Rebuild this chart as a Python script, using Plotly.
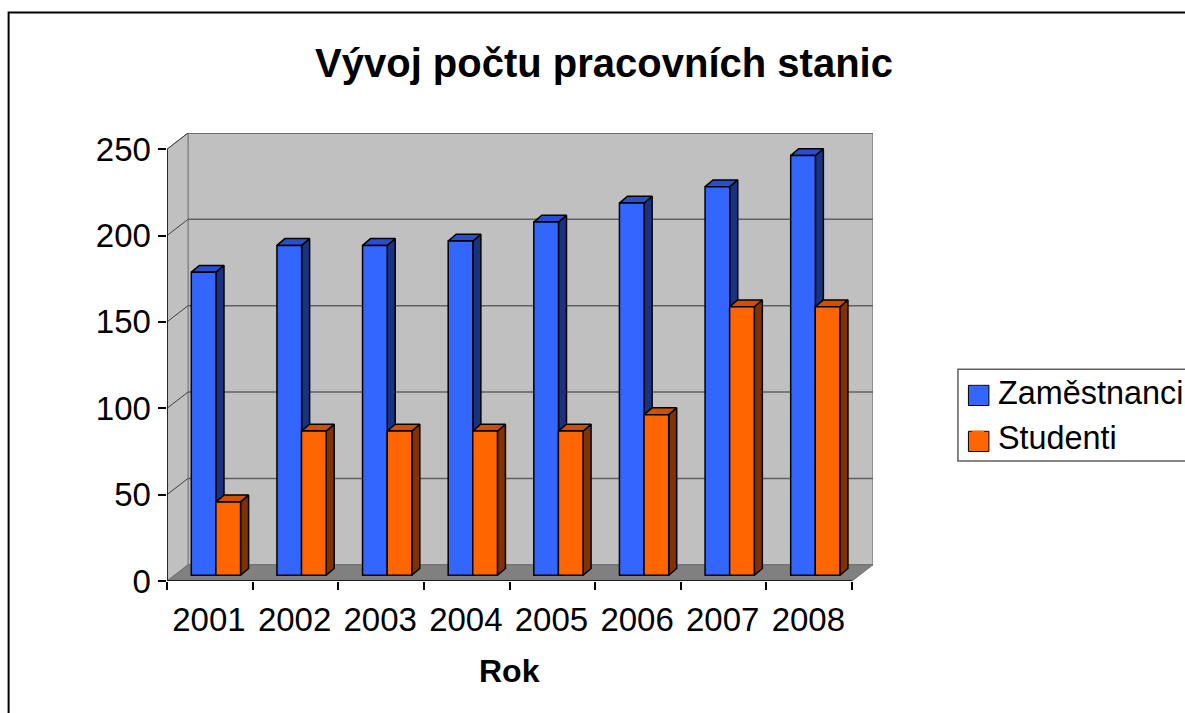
import numpy as np
import plotly.graph_objects as go

years = ["2001", "2002", "2003", "2004", "2005", "2006", "2007", "2008"]
zamestnanci = [175.5, 191, 191, 193.5, 204.5, 215.5, 225, 243]
studenti = [42.5, 83.5, 83.5, 83.5, 83.5, 93, 155.5, 155.5]
y_ticks = [0, 50, 100, 150, 200, 250]

W, H = 1185, 713
L, R_EDGE, T, B_EDGE = 166.5, 873.0, 132.7, 581.0
PX_CAT = 85.65
PX_VAL = 1.728
DEPTH_X = 21 / PX_CAT
DEPTH_Y = 16.2 / PX_VAL
BAR_W = 24.7 / PX_CAT
BAR_DX = 8 / PX_CAT
BAR_DY = 6.8 / PX_VAL
BAR_BASE = 5.7 / PX_VAL
CENTER_A, CENTER_B = 0.428, 0.715
N = len(years)
TOP = 250 + DEPTH_Y
pw, ph = R_EDGE - L, B_EDGE - T


def paper_x(px):
    return (px - L) / pw


def paper_y(py):
    return (B_EDGE - py) / ph


def faces(centers, values):
    sx, sy, tx, ty = [], [], [], []
    for c, v in zip(centers, values):
        r = c + BAR_W / 2
        l = c - BAR_W / 2
        t = BAR_BASE + v
        sx += [r, r + BAR_DX, r + BAR_DX, r, r, None]
        sy += [BAR_BASE, BAR_BASE + BAR_DY, t + BAR_DY, t, BAR_BASE, None]
        tx += [l, l + BAR_DX, r + BAR_DX, r, l, None]
        ty += [t, t + BAR_DY, t + BAR_DY, t, t, None]
    return sx, sy, tx, ty


fig = go.Figure()
series = [
    ("Zaměstnanci", zamestnanci, CENTER_A, "#3366FF", "#1A3380", "#2850CC", 0),
    ("Studenti", studenti, CENTER_B, "#FF6600", "#803300", "#CC5200", 2),
]
for name, vals, off, col, side, top, z in series:
    centers = np.arange(N) + off
    sx, sy, tx, ty = faces(centers, vals)
    for fx, fy, fc in ((sx, sy, side), (tx, ty, top)):
        fig.add_trace(go.Scatter(x=fx, y=fy, mode="lines", fill="toself", fillcolor=fc,
                                 line=dict(color="black", width=1.5), showlegend=False,
                                 hoverinfo="skip", zorder=z))
    fig.add_trace(go.Bar(x=centers, y=vals, base=BAR_BASE, width=BAR_W, name=name,
                         marker=dict(color=col, line=dict(color="black", width=1.5)),
                         showlegend=False, zorder=z + 1))
    fig.add_trace(go.Scatter(x=[None], y=[None], mode="markers", name=name,
                             marker=dict(symbol="square", size=20, color=col,
                                         line=dict(width=0))))

shapes = [
    dict(type="rect", xref="paper", yref="paper",
         x0=paper_x(8.0), x1=paper_x(1300), y0=paper_y(800), y1=paper_y(12),
         layer="below", line=dict(color="black", width=2), fillcolor="white"),
    dict(type="rect", x0=DEPTH_X, x1=N + DEPTH_X, y0=DEPTH_Y, y1=TOP, layer="below",
         fillcolor="#C0C0C0", line=dict(color="#808080", width=1.5)),
    dict(type="path", path=f"M0,0 L{DEPTH_X},{DEPTH_Y} L{DEPTH_X},{TOP} L0,250 Z", layer="below",
         fillcolor="#C0C0C0", line=dict(color="#808080", width=1)),
    dict(type="path", path=f"M0,0 L{N},0 L{N + DEPTH_X},{DEPTH_Y} L{DEPTH_X},{DEPTH_Y} Z", layer="below",
         fillcolor="#808080", line=dict(color="#707070", width=1)),
]
for v in y_ticks[1:]:
    shapes.append(dict(type="line", x0=DEPTH_X, x1=N + DEPTH_X, y0=v + DEPTH_Y, y1=v + DEPTH_Y,
                       layer="below", line=dict(color="#606060", width=1.5)))
    shapes.append(dict(type="line", x0=0, x1=DEPTH_X, y0=v, y1=v + DEPTH_Y,
                       layer="below", line=dict(color="#404040", width=1)))
shapes.append(dict(type="line", x0=0, x1=0, y0=0, y1=250, line=dict(color="black", width=1.5)))
shapes.append(dict(type="line", x0=0, x1=N, y0=0, y1=0, line=dict(color="black", width=1.5)))
# legend frame and 20 px swatches (the legend's own swatch size is capped)
shapes.append(dict(type="rect", xref="paper", yref="paper",
                   x0=paper_x(958), x1=paper_x(1300), y0=paper_y(461), y1=paper_y(369),
                   fillcolor="white", line=dict(color="#606060", width=1.5)))
for (y0, y1), col in (((385.2, 405.4), "#3366FF"), ((431.2, 451.4), "#FF6600")):
    shapes.append(dict(type="rect", xref="paper", yref="paper",
                       x0=paper_x(968.5), x1=paper_x(989), y0=paper_y(y1), y1=paper_y(y0),
                       fillcolor=col, line=dict(color="black", width=1)))

font = "Liberation Sans, Arial, sans-serif"
fig.update_layout(
    width=W, height=H, autosize=False,
    margin=dict(l=L, r=W - R_EDGE, t=T, b=H - B_EDGE, pad=0, autoexpand=False),
    paper_bgcolor="white", plot_bgcolor="rgba(0,0,0,0)",
    barmode="overlay",
    font=dict(family=font, size=33, color="black"),
    shapes=shapes,
    title=dict(text="<b>Vývoj počtu pracovních stanic</b>", font=dict(size=40, color="black"),
               x=604 / W, xref="container", xanchor="center",
               y=1 - 63 / H, yref="container", yanchor="middle"),
    legend=dict(x=paper_x(958), xanchor="left", y=paper_y(364), yanchor="top",
                bgcolor="rgba(0,0,0,0)", borderwidth=0,
                itemsizing="constant", entrywidth=185, entrywidthmode="pixels",
                font=dict(size=32.4), tracegroupgap=0),
    xaxis=dict(range=[0, N + DEPTH_X], tickmode="array", tickvals=np.arange(N) + 0.49,
               ticktext=years, ticklen=9, tickcolor="rgba(0,0,0,0)", ticks="outside",
               showgrid=False, zeroline=False, showline=False,
               tickfont=dict(size=33),
               minor=dict(tickmode="array", tickvals=list(range(N + 1)), ticks="outside",
                          ticklen=8, tickcolor="black", tickwidth=1.5, showgrid=False)),
    yaxis=dict(range=[0, TOP], tickmode="array", tickvals=y_ticks, ticks="outside", ticklen=8.5,
               tickcolor="black", tickwidth=1.5, showgrid=False, zeroline=False, showline=False,
               tickfont=dict(size=33)),
    annotations=[dict(text="<b>Rok</b>", x=N / 2, xref="x", y=paper_y(671), yref="paper",
                      xanchor="center", yanchor="middle", showarrow=False,
                      font=dict(size=32, color="black"))],
    showlegend=True,
)
fig.write_html("out.html", config=dict(displayModeBar=False),
               post_script="document.body.style.margin='0';document.body.style.overflow='hidden';")
